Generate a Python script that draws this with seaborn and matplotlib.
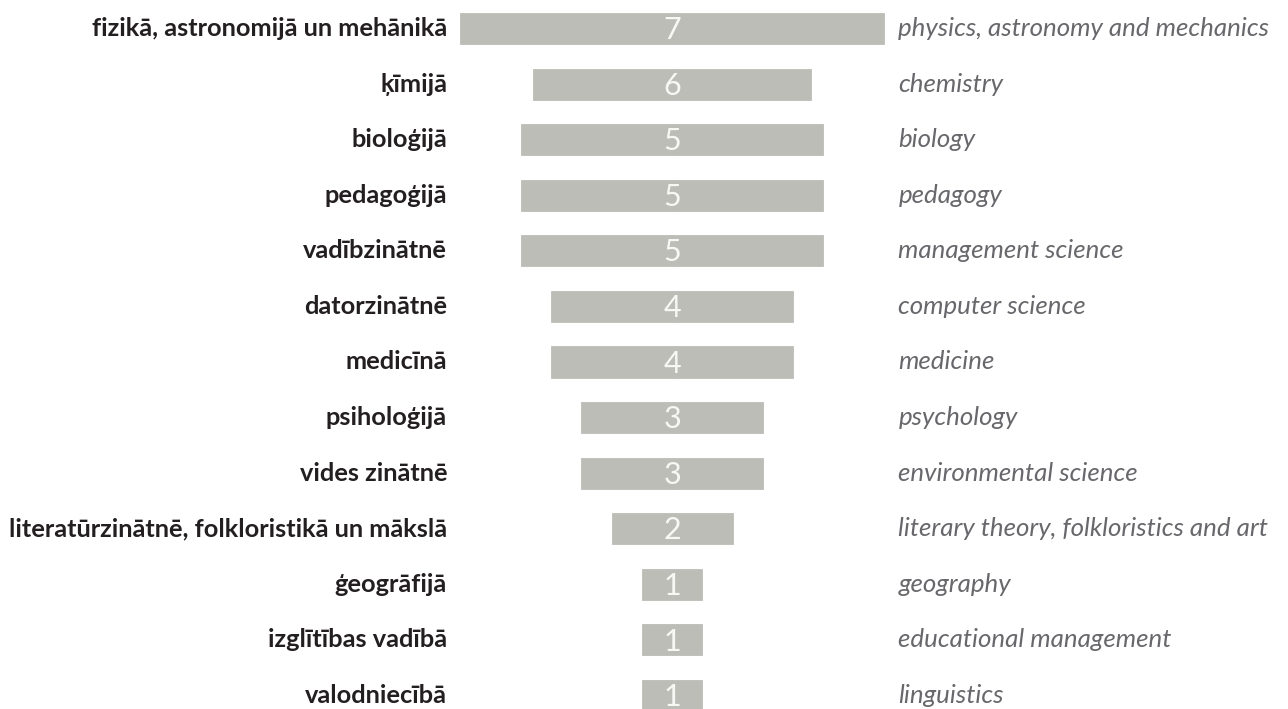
import matplotlib
matplotlib.use("Agg")
import matplotlib.pyplot as plt
import seaborn as sns

sns.set_theme(style="white")
plt.rcParams["font.family"] = ["Lato", "DejaVu Sans"]

fields_lv = [
    "fizikā, astronomijā un mehānikā",
    "ķīmijā",
    "bioloģijā",
    "pedagoģijā",
    "vadībzinātnē",
    "datorzinātnē",
    "medicīnā",
    "psiholoģijā",
    "vides zinātnē",
    "literatūrzinātnē, folkloristikā un mākslā",
    "ģeogrāfijā",
    "izglītības vadībā",
    "valodniecībā",
]
fields_en = [
    "physics, astronomy and mechanics",
    "chemistry",
    "biology",
    "pedagogy",
    "management science",
    "computer science",
    "medicine",
    "psychology",
    "environmental science",
    "literary theory, folkloristics and art",
    "geography",
    "educational management",
    "linguistics",
]
counts = [7, 6, 5, 5, 5, 4, 4, 3, 3, 2, 1, 1, 1]
# drawn bar length as it appears in the picture (chemistry bar is shorter than its label)
bar_length = [7, 4.6, 5, 5, 5, 4, 4, 3, 3, 2, 1, 1, 1]

bar_color = "#bdbdb8"

fig = plt.figure(figsize=(12.88, 7.09), dpi=100)
ax = fig.add_axes([0, 0, 1, 1])

half = [v / 2 for v in bar_length]
sns.barplot(x=half, y=fields_lv, orient="h", color=bar_color, width=0.56,
            linewidth=0.6, edgecolor=bar_color, saturation=1, ax=ax)
sns.barplot(x=[-v for v in half], y=fields_lv, orient="h", color=bar_color, width=0.56,
            linewidth=0.6, edgecolor=bar_color, saturation=1, ax=ax)

ax.set_xlim(-11.11, 10.18)
ax.set_ylim(12.244, -0.513)
ax.axis("off")

for i, (lv, en, n) in enumerate(zip(fields_lv, fields_en, counts)):
    ax.text(-3.72, i, lv, ha="right", va="center", fontsize=18.3,
            fontweight="bold", color="#231f20")
    ax.text(3.74, i, en, ha="left", va="center", fontsize=18.6,
            fontstyle="italic", color="#68686c")
    ax.text(0, i + 0.03, str(n), ha="center", va="center", fontsize=22,
            color="#f7f7f4")

fig.savefig("out.png", dpi=100)
